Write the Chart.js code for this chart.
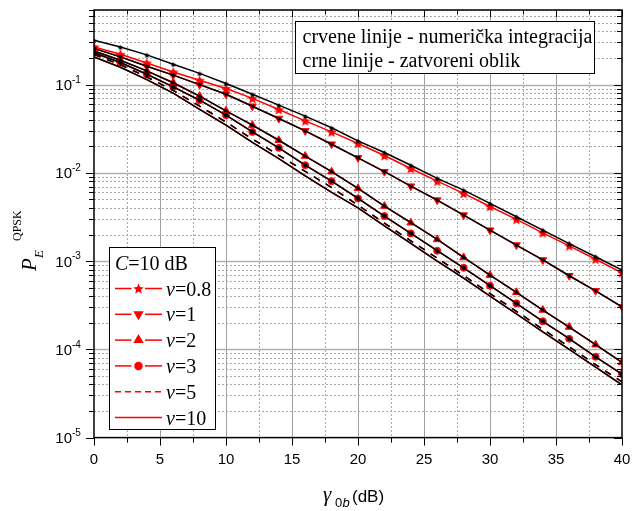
<!DOCTYPE html>
<html>
<head>
<meta charset="utf-8">
<script src="https://cdn.jsdelivr.net/npm/chart.js@4.4.0/dist/chart.umd.min.js"></script>
<style>
html, body { margin: 0; padding: 0; background: #fff; }
#wrap { width: 643px; height: 511px; }
</style>
</head>
<body>
<div id="wrap"><canvas id="chart" width="643" height="511"></canvas></div>
<script>
// gamma_0b (dB)
const gamma = [0, 2, 4, 6, 8, 10, 12, 14, 16, 18, 20, 22, 24, 26, 28, 30, 32, 34, 36, 38, 40];

// red = numerical integration, black = closed form
const pe08Num = [0.267, 0.221, 0.176, 0.139, 0.112, 0.0904, 0.0697, 0.0522, 0.0388, 0.0291, 0.0215, 0.0157, 0.0112, 0.00805, 0.00585, 0.00416, 0.00297, 0.00209, 0.00149, 0.00105, 0.000738];
const pe08Closed = [0.318, 0.267, 0.217, 0.170, 0.134, 0.103, 0.0778, 0.0585, 0.0439, 0.0324, 0.0230, 0.0170, 0.0122, 0.00865, 0.00637, 0.00450, 0.00318, 0.00224, 0.00158, 0.00112, 0.000791];
const pe1 = [0.256, 0.206, 0.161, 0.128, 0.100, 0.0778, 0.0569, 0.0413, 0.0299, 0.0211, 0.0148, 0.0103, 0.00706, 0.00491, 0.00332, 0.00224, 0.00152, 0.00103, 0.000682, 0.000461, 0.000303];
const pe2 = [0.241, 0.189, 0.143, 0.105, 0.0740, 0.0504, 0.0347, 0.0234, 0.0155, 0.0103, 0.00665, 0.00420, 0.00272, 0.00176, 0.00110, 0.000693, 0.000443, 0.000279, 0.000179, 0.000113, 0.0000713];
const pe3 = [0.229, 0.178, 0.131, 0.0942, 0.0665, 0.0450, 0.0291, 0.0192, 0.0122, 0.00805, 0.00513, 0.00324, 0.00206, 0.00131, 0.000840, 0.000526, 0.000332, 0.000208, 0.000132, 0.0000824, 0.0000525];
const pe5 = [0.219, 0.168, 0.122, 0.0859, 0.0570, 0.0376, 0.0242, 0.0158, 0.0104, 0.00681, 0.00431, 0.00269, 0.00170, 0.00108, 0.000687, 0.000429, 0.000270, 0.000169, 0.000107, 0.0000671, 0.0000428];
const pe10 = [0.205, 0.157, 0.114, 0.0802, 0.0525, 0.0347, 0.0221, 0.0145, 0.00923, 0.00600, 0.00402, 0.00251, 0.00159, 0.00100, 0.000641, 0.000400, 0.000252, 0.000158, 0.000100, 0.0000627, 0.0000395];

const nuLabels = ['0.8', '1', '2', '3', '5', '10'];
const xTicks = [0, 5, 10, 15, 20, 25, 30, 35, 40];
const yDecades = [1e-5, 1e-4, 1e-3, 1e-2, 1e-1];
const yExponents = ['-5', '-4', '-3', '-2', '-1'];

const RED = '#ff0000';
const SERIF = '"Liberation Serif", "Times New Roman", serif';
const SANS = '"Liberation Sans", Arial, sans-serif';

function starImage(size, color) {
    const c = document.createElement('canvas');
    c.width = c.height = size;
    const g = c.getContext('2d');
    const R = size / 2, r = R * 0.45;
    g.beginPath();
    for (let i = 0; i < 10; i++) {
        const rad = i % 2 ? r : R;
        const a = -Math.PI / 2 + i * Math.PI / 5;
        g.lineTo(R + rad * Math.cos(a), R + 0.6 + rad * Math.sin(a));
    }
    g.closePath();
    g.fillStyle = color;
    g.fill();
    return c;
}
const starRed = starImage(11, RED);
const starBlack = starImage(6, '#000');

function series(values) {
    return gamma.map((g, i) => ({ x: g, y: values[i] }));
}

function makeSet(values, color, order, style) {
    return Object.assign({
        data: series(values),
        borderColor: color,
        backgroundColor: color,
        pointBackgroundColor: color,
        pointBorderColor: color,
        pointBorderWidth: 1,
        borderWidth: 1.5,
        pointRadius: 0,
        tension: 0,
        order: order
    }, style);
}

// legend styles (red)
const legendStyles = [
    { pointStyle: starRed, radius: 5, rotation: 0, dash: [], gap: true },
    { pointStyle: 'triangle', radius: 4.5, rotation: 180, dash: [], gap: true },
    { pointStyle: 'triangle', radius: 4.5, rotation: 0, dash: [], gap: true },
    { pointStyle: 'circle', radius: 3.5, rotation: 0, dash: [], gap: true },
    { pointStyle: false, radius: 0, rotation: 0, dash: [6, 4], gap: false },
    { pointStyle: false, radius: 0, rotation: 0, dash: [], gap: false }
];

const datasets = [
    // closed form (black, drawn on top)
    makeSet(pe08Closed, '#000', 0, { pointStyle: starBlack, pointRadius: 3 }),
    makeSet(pe1, '#000', 0, { pointStyle: 'triangle', pointRotation: 180, pointRadius: 2 }),
    makeSet(pe2, '#000', 0, { pointStyle: 'triangle', pointRadius: 2 }),
    makeSet(pe3, '#000', 0, { pointStyle: 'circle', pointRadius: 1.8 }),
    makeSet(pe5, '#000', 0, { borderDash: [7, 7] }),
    makeSet(pe10, '#000', 0, {}),
    // numerical integration (red)
    makeSet(pe08Num, RED, 1, { pointStyle: starRed, pointRadius: 5 }),
    makeSet(pe1, RED, 1, { pointStyle: 'triangle', pointRotation: 180, pointRadius: 4.5 }),
    makeSet(pe2, RED, 1, { pointStyle: 'triangle', pointRadius: 4.5 }),
    makeSet(pe3, RED, 1, { pointStyle: 'circle', pointRadius: 3.5 }),
    makeSet(pe5, RED, 1, { borderDash: [7, 7] }),
    makeSet(pe10, RED, 1, {})
];

function hline(ctx, x1, x2, y) {
    ctx.beginPath(); ctx.moveTo(x1, y); ctx.lineTo(x2, y); ctx.stroke();
}
function vline(ctx, x, y1, y2) {
    ctx.beginPath(); ctx.moveTo(x, y1); ctx.lineTo(x, y2); ctx.stroke();
}

function yGridValues(yScale) {
    const out = [];
    yDecades.forEach(d => {
        for (let m = 1; m <= 9; m++) {
            const v = m * d;
            if (v <= yScale.max * 1.0001) out.push({ v, major: m === 1 });
        }
    });
    return out;
}

const framePlugin = {
    id: 'frame',
    beforeDatasetsDraw(chart) {
        const { ctx, chartArea: a, scales: { x, y } } = chart;
        ctx.save();
        ctx.lineWidth = 1;
        // vertical grid
        for (let v = 2.5; v < 40; v += 2.5) {
            const px = Math.round(x.getPixelForValue(v)) + 0.5;
            const major = v % 5 === 0;
            ctx.strokeStyle = major ? '#a0a0a0' : '#a8a8a8';
            ctx.setLineDash(major ? [] : [2, 2]);
            vline(ctx, px, a.top, a.bottom);
        }
        // horizontal grid
        yGridValues(y).forEach(g => {
            if (g.v <= y.min) return;
            const py = Math.round(y.getPixelForValue(g.v)) + 0.5;
            ctx.strokeStyle = g.major ? '#b0b0b0' : '#a8a8a8';
            ctx.lineWidth = g.major ? 1.5 : 1;
            ctx.setLineDash(g.major ? [] : [2, 2]);
            hline(ctx, a.left, a.right, py);
        });
        ctx.restore();
    },
    afterDatasetsDraw(chart) {
        const { ctx, chartArea: a, scales: { x, y } } = chart;
        ctx.save();
        ctx.setLineDash([]);
        ctx.strokeStyle = '#000';
        ctx.fillStyle = '#000';

        // ticks
        ctx.lineWidth = 1;
        for (let v = 0; v <= 40; v += 2.5) {
            const px = Math.round(x.getPixelForValue(v)) + 0.5;
            const len = v % 5 === 0 ? 8 : 5;
            vline(ctx, px, a.bottom, a.bottom + len);
            vline(ctx, px, a.top, a.top + len - 1);
        }
        yGridValues(y).forEach(g => {
            const py = Math.round(y.getPixelForValue(g.v)) + 0.5;
            const len = g.major ? 8 : 5;
            hline(ctx, a.left - len, a.left, py);
            hline(ctx, a.right - len, a.right, py);
        });

        // frame
        ctx.lineWidth = 1.5;
        ctx.strokeRect(a.left, a.top, a.right - a.left, a.bottom - a.top);

        // x tick labels
        ctx.font = '15px ' + SANS;
        ctx.textAlign = 'center';
        ctx.textBaseline = 'middle';
        xTicks.forEach(v => ctx.fillText(String(v), x.getPixelForValue(v), a.bottom + 22));

        // y tick labels: 10^n
        yDecades.forEach((d, i) => {
            const py = y.getPixelForValue(d);
            ctx.font = '15px ' + SANS;
            ctx.textAlign = 'right';
            ctx.textBaseline = 'middle';
            ctx.fillText('10', 72, py + 1.5);
            ctx.font = '10px ' + SANS;
            ctx.textAlign = 'left';
            ctx.fillText(yExponents[i], 72, py - 4.5);
        });

        // x title
        ctx.textAlign = 'left';
        ctx.textBaseline = 'alphabetic';
        ctx.font = 'italic 21px ' + SERIF;
        ctx.fillText('γ', 323, 501);
        ctx.font = '13px ' + SANS;
        ctx.fillText('0', 335, 507);
        ctx.font = 'italic 13px ' + SANS;
        ctx.fillText('b', 342.5, 507);
        ctx.font = '17px ' + SANS;
        ctx.fillText('(dB)', 352, 502);

        // y title
        ctx.save();
        ctx.translate(36, 271);
        ctx.rotate(-Math.PI / 2);
        ctx.font = 'italic 21px ' + SERIF;
        ctx.fillText('P', 0, 0);
        ctx.font = 'italic 13px ' + SERIF;
        ctx.fillText('E', 13, 7);
        ctx.font = '12px ' + SERIF;
        ctx.fillText('QPSK', 30, -15);
        ctx.restore();

        // text box (top right)
        ctx.fillStyle = '#fff';
        ctx.fillRect(295.5, 21.5, 299, 52);
        ctx.lineWidth = 1;
        ctx.strokeRect(295.5, 21.5, 299, 52);
        ctx.fillStyle = '#000';
        ctx.font = '20px ' + SERIF;
        ctx.fillText('crvene linije - numerička integracija', 302.5, 43);
        ctx.fillText('crne linije - zatvoreni oblik', 302.5, 67);

        // legend
        ctx.fillStyle = '#fff';
        ctx.fillRect(109.5, 247.5, 106, 182);
        ctx.strokeStyle = '#000';
        ctx.strokeRect(109.5, 247.5, 106, 182);
        ctx.fillStyle = '#000';
        ctx.font = 'italic 20px ' + SERIF;
        ctx.fillText('C', 115, 269.5);
        const cw = ctx.measureText('C').width;
        ctx.font = '20px ' + SERIF;
        ctx.fillText('=10 dB', 115 + cw, 269.5);

        legendStyles.forEach((s, i) => {
            const ly = 288.5 + i * 25.8;
            ctx.strokeStyle = RED;
            ctx.fillStyle = RED;
            ctx.lineWidth = 1.5;
            ctx.setLineDash(s.dash);
            if (s.gap) {
                hline(ctx, 115, 131.5, ly);
                hline(ctx, 145, 162, ly);
                Chart.helpers.drawPoint(ctx, { pointStyle: s.pointStyle, radius: s.radius, rotation: s.rotation, borderWidth: 1 }, 138.5, ly);
            } else {
                hline(ctx, 115, 162, ly);
            }
            ctx.setLineDash([]);
            ctx.fillStyle = '#000';
            ctx.font = 'italic 20px ' + SERIF;
            ctx.fillText('ν', 166, ly + 7);
            const nw = ctx.measureText('ν').width;
            ctx.font = '20px ' + SERIF;
            ctx.fillText('=' + nuLabels[i], 166 + nw, ly + 7);
        });

        ctx.restore();
    }
};

new Chart(document.getElementById('chart'), {
    type: 'line',
    data: { datasets: datasets },
    options: {
        responsive: false,
        animation: false,
        devicePixelRatio: 1,
        layout: { padding: { left: 0, right: 21, top: 10, bottom: 0 } },
        plugins: { legend: { display: false }, tooltip: { enabled: false } },
        scales: {
            x: {
                type: 'linear', min: 0, max: 40,
                grid: { display: false }, border: { display: false },
                ticks: { display: false },
                afterFit: s => { s.height = 73.4; }
            },
            y: {
                type: 'logarithmic', min: 1e-5, max: 0.7,
                grid: { display: false }, border: { display: false },
                ticks: { display: false },
                afterFit: s => { s.width = 94; }
            }
        }
    },
    plugins: [framePlugin]
});
</script>
</body>
</html>
